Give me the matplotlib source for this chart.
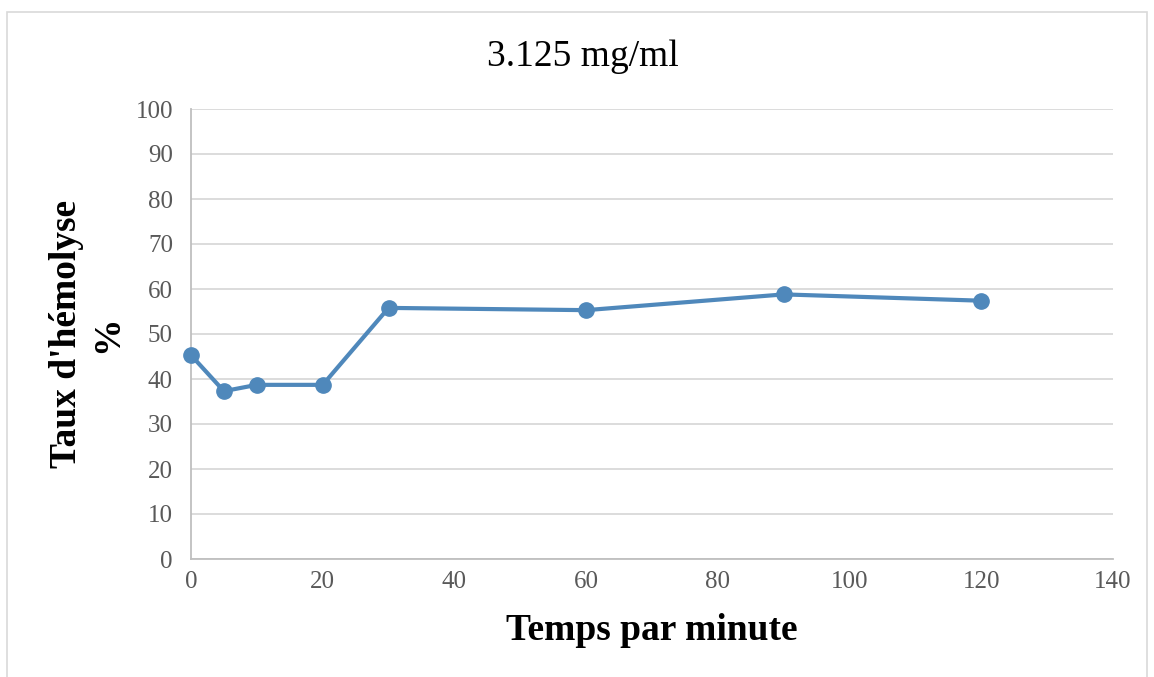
import matplotlib
matplotlib.use('Agg')
import matplotlib.pyplot as plt
from matplotlib.patches import Rectangle

# data
temps = [0, 5, 10, 20, 30, 60, 90, 120]
hemolyse = [45.3, 37.3, 38.7, 38.7, 55.8, 55.3, 58.8, 57.4]
xticks = [0, 20, 40, 60, 80, 100, 120, 140]
yticks = [0, 10, 20, 30, 40, 50, 60, 70, 80, 90, 100]

plt.rcParams['font.family'] = ['Liberation Serif', 'DejaVu Serif']

fig = plt.figure(figsize=(11.54, 6.77), dpi=100)
ax = fig.add_axes([191/1154, 1-559/677, (1113-191)/1154, (559-109)/677])

# outer chart border
fig.patches.append(Rectangle((7/1154, -0.01), (1147-7)/1154, 1-12/677+0.01,
                             transform=fig.transFigure, fill=False,
                             edgecolor='#d9d9d9', linewidth=1.2))

ax.plot(temps, hemolyse, color='#4f88bb', linewidth=3, marker='o',
        markersize=11, zorder=3, clip_on=False)

ax.set_xlim(0, 140)
ax.set_ylim(0, 100)
ax.set_xticks(xticks)
ax.set_yticks(yticks)
ax.grid(axis='y', color='#d9d9d9', linewidth=1.3)
ax.set_axisbelow(True)
for s in ['top', 'right']:
    ax.spines[s].set_visible(False)
for s in ['left', 'bottom']:
    ax.spines[s].set_color('#bfbfbf')
    ax.spines[s].set_linewidth(1.3)
ax.tick_params(length=0, labelsize=18, labelcolor='#595959')
ax.tick_params(axis='y', pad=13)
ax.tick_params(axis='x', pad=9)

fig.text(583/1154, 1-57/677, '3.125 mg/ml', ha='center', va='center',
         fontsize=27, color='#000000')
ax.set_xlabel('Temps par minute', fontsize=27, fontweight='bold', labelpad=14)
fig.text(87/1154, 1-334/677, "Taux d'hémolyse\n%", ha='center', va='center',
         rotation=90, fontsize=27, fontweight='bold', linespacing=1.25)

fig.savefig('out.png', dpi=100)
